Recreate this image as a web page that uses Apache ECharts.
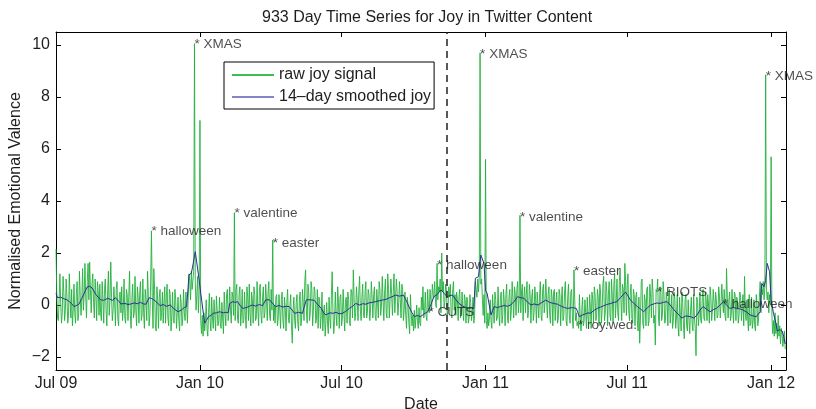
<!DOCTYPE html>
<html>
<head>
<meta charset="utf-8">
<script src="https://cdn.jsdelivr.net/npm/echarts@6/dist/echarts.min.js"></script>
<style>html,body{margin:0;padding:0;background:#fff}#chart{width:816px;height:409px}</style>
</head>
<body>
<div id="chart"></div>
<script>
// x positions are day offsets from 1 July 2009 (933 daily values)
const tickDays = [0, 184, 365, 549, 730, 914];
const tickLabels = ['Jul 09', 'Jan 10', 'Jul 10', 'Jan 11', 'Jul 11', 'Jan 12'];
const yTicks = [-2, 0, 2, 4, 6, 8, 10];
const dividerDay = 499;

const rawJoy = [
2.15,0.4,-0.5,-0.6,0.2,1.2,0.1,
-0.7,-0.3,1.1,0.5,-0.6,-0.2,1.0,
0.3,-0.7,-0.4,1.2,0.2,-0.5,0.6,
-0.8,-0.2,0.8,-0.3,-0.7,0.4,0.9,
-0.6,-0.3,1.3,0.3,-0.4,0.2,1.4,
-0.2,0.4,1.6,0.3,-0.5,0.9,1.6,
0.2,1.65,0.6,-0.3,0.8,1.2,0.1,
-0.5,1.0,0.4,-0.6,0.9,0.5,-0.4,
0.8,-0.3,-0.6,0.9,0.2,-0.7,0.6,
1.0,-0.2,-0.8,0.5,1.3,-0.4,0.2,
1.65,0.3,-0.6,-0.2,0.7,0.1,-0.8,
0.6,0.9,-0.5,-0.8,0.4,0.5,-0.3,
0.7,-0.6,-0.2,1.0,-0.5,-0.7,0.6,
0.4,-0.6,0.3,1.3,-0.4,-0.9,0.2,
0.8,-0.5,-0.3,1.1,-0.2,-0.8,0.7,
0.3,-0.7,0.5,0.9,-0.6,-0.4,1.0,
-0.3,-0.9,0.6,0.2,-0.6,1.3,0.4,
-0.8,-0.4,0.9,2.85,0.3,-0.9,1.4,
0.6,-0.8,-1.0,0.7,0.2,-0.9,0.3,
0.6,-0.6,-0.3,0.5,-0.7,0.1,0.7,
-0.7,0.3,0.8,-0.5,-0.8,0.6,0.4,
-1.0,-0.4,0.5,-0.6,-0.7,0.6,0.2,
-0.9,-0.3,0.3,-0.6,-1.0,0.4,0.1,
-0.8,-0.5,0.6,-0.3,-0.6,0.5,0.0,
-0.7,0.3,1.2,0.9,0.2,1.3,0.6,
0.6,1.3,10.05,0.9,-0.2,0.4,1.1,
-0.3,0.5,7.1,-0.6,-1.1,-0.4,-1.2,
-0.3,-1.0,-0.6,0.2,-0.9,-1.2,-0.3,
0.45,-0.6,-1.0,0.3,-0.5,-0.9,0.2,
-0.4,-1.0,0.35,-0.2,-0.8,-0.6,0.3,
-0.7,-0.9,0.1,-0.5,-1.1,0.5,-0.3,
-0.8,0.4,0.6,-0.6,-0.3,0.7,-0.2,
-0.7,0.5,0.3,-0.4,3.55,-0.6,0.6,
0.8,-0.5,-0.7,0.4,0.7,-0.8,-0.3,
0.6,-0.7,-0.6,0.5,-0.4,-0.9,0.7,
0.3,-0.6,0.8,-0.3,-0.8,0.5,0.2,
-0.7,0.7,0.4,-0.6,-0.5,0.9,-0.2,
-0.8,0.6,0.8,-0.4,-0.7,0.3,0.7,
-0.5,-0.3,0.8,0.2,-0.6,0.5,0.9,
-0.4,-0.6,0.6,-0.2,2.5,-0.6,0.0,
-0.7,0.3,0.4,-0.8,-0.5,0.4,-0.2,
-0.9,0.2,0.5,-0.6,-0.9,0.3,-0.1,
-1.0,0.1,0.6,-0.5,-0.7,0.0,0.4,
-0.8,-1.47,-0.2,0.3,-0.6,-0.9,0.1,
0.4,-0.7,-1.0,0.2,0.5,-0.8,-0.5,
0.6,0.1,-0.6,0.9,1.35,-0.2,-0.7,
0.8,0.5,-0.6,-0.3,0.9,0.6,-0.8,
-0.2,0.7,0.5,-0.7,-0.5,0.6,-0.9,
0.3,0.2,-0.9,-0.4,0.5,-1.0,-0.3,
0.0,-1.2,-0.6,0.1,-0.7,-1.1,0.3,
-0.5,-0.9,0.4,1.28,-0.3,-1.1,-0.6,
0.5,-0.4,-0.8,0.7,0.1,-0.9,0.3,
0.4,-0.8,-0.5,0.6,-0.3,-1.0,0.2,
0.3,-0.7,0.5,0.2,-0.6,-0.8,0.6,
0.5,-0.5,1.35,0.3,-0.6,-0.3,0.7,
0.2,-0.6,0.5,1.1,-0.2,-0.6,0.3,
0.8,-0.4,-0.5,0.5,0.9,-0.5,-0.3,
0.6,0.4,-0.6,-0.2,0.9,0.3,-0.5,
0.4,0.7,-0.4,-0.6,0.6,0.1,-0.5,
0.9,0.6,-0.4,0.0,1.1,0.2,-0.6,
0.5,1.0,-0.3,-0.5,1.2,0.6,-0.5,
0.2,1.0,0.4,-0.4,0.5,1.2,-0.3,
0.3,1.0,0.5,-0.4,0.1,0.9,0.2,
-0.5,0.8,0.6,-0.6,-0.2,0.5,-0.4,
-0.9,0.3,0.0,-0.7,-1.1,0.4,-0.3,
-0.8,-0.4,-1.0,-0.2,-0.9,-0.5,0.0,
-0.6,-0.9,-0.1,-0.7,-0.8,0.3,-0.2,
0.7,-0.5,-0.3,0.5,-0.4,-0.6,0.6,
-0.1,-0.3,0.6,0.2,-0.2,0.8,0.4,
0.3,0.9,0.1,-0.1,1.6,0.2,0.7,
0.5,1.0,-0.3,2.0,0.5,0.9,-0.1,
0.1,0.8,0.6,-0.4,-0.2,0.7,0.3,
0.8,-0.3,-0.5,0.6,0.9,-0.2,0.4,
-0.4,0.5,0.2,-0.6,0.3,0.6,-0.5,
-0.3,0.5,-0.2,-0.6,0.4,0.2,-0.7,
0.3,0.2,-0.7,-0.5,0.4,0.1,-0.6,
-0.3,0.3,-0.7,-0.4,0.9,0.6,0.3,
1.0,0.5,1.1,9.7,0.8,1.0,0.2,
-0.4,0.4,-0.7,5.6,-0.6,-0.9,-0.3,
-0.8,-0.5,0.2,-0.6,-0.9,0.4,-0.2,
-0.7,0.5,0.2,-0.6,-0.5,0.7,-0.3,
-0.8,0.3,0.5,-0.7,-0.4,0.6,0.1,
-0.8,0.4,0.8,-0.5,-0.7,0.3,0.6,
-0.6,-0.2,0.9,0.2,-0.5,0.7,0.4,
-0.4,0.6,0.9,-0.3,0.2,3.45,-0.3,
0.5,0.8,-0.6,0.3,0.7,-0.3,0.4,
0.9,-0.5,-0.2,0.8,0.4,-0.7,0.3,
0.6,-0.6,-0.3,0.7,0.2,-0.7,0.5,
0.5,-0.5,0.3,0.9,-0.4,-0.6,0.6,
0.8,-0.3,0.1,1.0,0.2,-0.5,0.4,
0.7,-0.4,-0.7,0.6,0.3,-0.8,0.5,
0.6,-0.6,0.1,0.5,-0.7,-0.5,0.6,
0.4,-0.8,0.2,0.7,-0.6,-0.4,0.5,
0.9,-0.6,-0.8,0.3,0.8,-0.4,-0.7,
0.5,0.6,-0.5,-0.9,1.35,0.2,-0.6,
-0.3,-0.8,-0.65,-0.9,0.4,-0.5,-1.0,
-0.2,0.3,-0.8,-0.6,0.2,-0.3,-0.9,
0.3,-0.5,-0.7,0.4,-0.1,-0.9,0.5,
0.2,-0.7,0.7,0.4,-0.6,-0.4,0.6,
0.3,-0.8,0.8,0.5,-0.7,-0.2,0.8,
1.1,-0.6,-0.3,0.9,0.5,-0.8,0.4,
0.9,-0.4,-0.6,1.0,0.3,-0.7,0.8,
1.2,-0.5,0.1,1.0,-0.3,-0.6,0.9,
1.4,0.2,-0.6,0.8,0.6,-0.3,1.6,
0.9,-0.4,0.7,1.2,-0.2,-0.6,0.5,
0.8,-0.5,-0.7,0.6,0.4,-0.8,0.3,
0.5,-0.6,-1.0,0.3,-1.47,-0.5,0.9,
1.0,-0.7,-0.9,0.4,0.2,-0.8,0.6,
0.7,-0.8,-0.6,0.8,0.3,-0.5,1.0,
0.5,-0.7,-0.4,-1.54,0.6,0.5,1.0,
-0.5,-0.8,0.6,0.7,-0.6,-0.4,0.9,
0.4,-0.7,-0.6,0.5,0.2,-0.8,0.3,
0.6,-0.7,-0.3,0.4,-0.9,-0.6,0.5,
0.2,-0.9,-0.5,0.4,-0.8,-1.2,0.3,
-0.4,-1.0,0.5,0.1,-0.8,-1.3,0.2,
0.4,-0.8,-1.0,0.2,-0.6,-1.1,-0.2,
0.3,-0.7,-1.0,0.4,-0.5,-0.9,-1.95,
0.3,0.1,-0.8,-0.4,0.5,-0.6,-0.7,
0.3,0.6,-0.5,-0.6,0.5,0.2,-0.6,
0.4,0.0,-0.7,0.7,0.3,-0.6,-0.2,
0.6,0.1,-0.6,0.5,0.2,-0.5,-0.4,
0.7,0.3,-0.5,0.1,0.8,0.1,-0.3,
0.6,-0.4,-0.6,1.4,0.3,-0.5,0.2,
0.5,-0.6,-0.4,0.6,-0.2,-0.7,0.5,
0.4,-0.6,0.3,0.2,-0.7,-0.4,0.5,
0.3,-0.6,-0.2,0.4,-0.8,1.1,-0.3,
-0.6,0.2,-0.5,-1.0,0.4,-0.8,-0.7,
0.3,-0.9,-0.6,0.2,-0.8,-1.0,0.4,
0.0,-0.8,-0.5,0.3,0.9,-0.3,0.6,
0.4,0.9,0.2,0.7,8.85,0.6,0.2,
0.5,-0.3,0.4,0.0,5.7,-0.4,-1.1,
-0.6,-1.2,-0.3,-1.1,-0.7,-1.3,-0.4,
-1.2,-0.8,-1.5,-0.9,-1.1,-1.6,-1.3,
-1.0,-1.7
];

// [day, value]
const smoothJoy = [
[0,0.45],[2,0.28],[6,0.3],[10,0.24],[14,0.2],[17,0.13],[20,0.05],[23,-0.06],[26,-0.02],[29,0.02],
[33,0.25],[36,0.45],[40,0.7],[43,0.72],[46,0.66],[51,0.4],[54,0.3],[57,0.2],[61,0.18],[66,0.26],
[69,0.22],[72,0.18],[76,0.28],[80,0.15],[83,0.04],[88,0.06],[92,0.02],[96,0.04],[100,0.08],[104,0.05],
[108,0.1],[112,0.04],[115,0.03],[119,0.28],[122,0.25],[125,0.2],[129,0.1],[133,-0.03],[137,0.02],[141,-0.05],
[146,0.0],[151,-0.15],[156,-0.26],[160,-0.2],[164,-0.1],[167,-0.06],[169,-0.12],[170,1.16],[173,1.22],[175,1.54],
[178,2.05],[180,2.0],[183,0.96],[185,0.45],[187,0.38],[190,-0.7],[192,-0.6],[195,-0.45],[198,-0.4],[201,-0.32],
[205,-0.3],[209,-0.26],[214,-0.3],[217,-0.28],[220,-0.3],[222,0.06],[226,0.13],[229,0.1],[232,0.13],[236,-0.05],
[239,-0.13],[243,-0.1],[247,-0.05],[251,0.0],[255,-0.04],[260,0.02],[264,-0.03],[268,0.2],[273,0.2],[277,0.05],
[281,-0.06],[285,-0.02],[290,-0.08],[294,-0.05],[298,-0.06],[302,-0.2],[305,-0.32],[310,-0.28],[315,-0.32],[317,-0.1],
[320,0.2],[325,0.2],[330,0.18],[335,0.0],[339,-0.13],[342,-0.3],[345,-0.38],[350,-0.3],[354,-0.32],[358,-0.28],
[362,-0.34],[366,-0.32],[370,-0.25],[375,-0.13],[379,-0.05],[383,0.06],[388,0.0],[392,0.05],[396,0.03],[400,0.08],
[404,0.1],[410,0.14],[417,0.19],[422,0.22],[428,0.3],[434,0.38],[439,0.34],[444,0.38],[448,0.15],[451,-0.06],
[455,-0.3],[458,-0.45],[462,-0.4],[466,-0.45],[470,-0.35],[475,-0.26],[479,0.0],[483,0.32],[487,0.4],[492,0.58],
[496,0.45],[500,0.32],[503,0.36],[507,0.38],[511,0.2],[515,0.06],[520,-0.05],[524,-0.1],[528,-0.13],[531,-0.1],
[534,-0.13],[536,1.03],[540,1.09],[543,1.92],[547,1.6],[549,0.55],[551,0.45],[553,0.38],[556,-0.38],[560,-0.06],
[564,-0.1],[568,-0.06],[573,-0.02],[577,-0.05],[581,0.0],[586,0.15],[590,0.32],[594,0.28],[598,0.26],[603,0.1],
[607,0.0],[611,0.04],[616,0.0],[621,0.1],[626,0.19],[631,0.1],[636,0.06],[641,0.03],[646,-0.05],[650,-0.1],
[654,-0.13],[660,-0.1],[665,-0.13],[667,-0.3],[669,-0.45],[673,-0.38],[676,-0.35],[680,-0.3],[683,-0.32],[688,-0.2],
[692,-0.13],[696,-0.08],[700,-0.03],[704,0.02],[709,0.06],[713,0.1],[717,0.13],[722,0.3],[728,0.5],[731,0.35],
[734,0.19],[738,0.08],[743,-0.06],[747,-0.15],[751,-0.26],[756,-0.1],[760,0.0],[764,0.04],[768,0.08],[772,0.06],
[776,0.1],[781,0.13],[785,0.0],[790,-0.19],[795,-0.35],[800,-0.5],[805,-0.42],[811,-0.45],[815,-0.5],[819,-0.4],
[823,-0.2],[827,-0.06],[831,-0.15],[836,-0.26],[840,-0.18],[844,-0.13],[849,0.0],[853,0.13],[857,0.0],[861,-0.13],
[866,-0.1],[870,-0.13],[874,-0.15],[878,-0.19],[883,-0.28],[887,-0.38],[891,-0.42],[895,-0.45],[900,-0.26],[901,0.4],
[902,0.83],[905,0.7],[907,0.95],[909,1.6],[912,1.28],[914,0.2],[917,-0.32],[920,-0.7],[922,-1.0],[925,-0.95],
[928,-1.0],[930,-1.2],[932,-1.5]
];

const annDays = [122, 177, 228, 277, 476, 487, 542, 593, 662, 667, 768, 852, 907];
const annValues = [2.85, 10.03, 3.53, 2.37, -0.28, 1.54, 9.64, 3.36, 1.28, -0.77, 0.47, 0.03, 8.78];
const annTexts = ['* halloween', '* XMAS', '* valentine', '* easter', '* CUTS', '* halloween', '* XMAS',
                  '* valentine', '* easter', '* roy.wed.', '* RIOTS', '* halloween', '* XMAS'];

const FONT = 'Liberation Sans, Arial, Helvetica, sans-serif';
const TXT = '#1e1e1e';
const GREEN = '#22b03c';
const NAVY = '#2e2e94';
const chart = echarts.init(document.getElementById('chart'), null, {renderer: 'canvas'});

const xCommon = {
  type: 'value', min: 0, max: 933,
  splitLine: {show: false},
  axisLine: {show: true, onZero: false, lineStyle: {color: '#000', width: 1}},
  axisTick: {show: true, inside: true, length: 5, customValues: tickDays, lineStyle: {color: '#000'}}
};
const yCommon = {
  type: 'value', min: -2.5, max: 10.5,
  splitLine: {show: false},
  axisLine: {show: true, onZero: false, lineStyle: {color: '#000', width: 1}},
  axisTick: {show: true, inside: true, length: 5, customValues: yTicks, lineStyle: {color: '#000'}}
};

chart.setOption({
  animation: false,
  backgroundColor: '#fff',
  title: {
    text: '933 Day Time Series for Joy in Twitter Content',
    left: 257, top: 5,
    textStyle: {fontFamily: FONT, fontSize: 16, fontWeight: 'normal', color: TXT}
  },
  grid: {left: 56, top: 32, width: 730, height: 338, containLabel: false, outerBoundsMode: 'none'},
  legend: {
    left: 224, top: 62, orient: 'vertical',
    itemWidth: 42, itemHeight: 2, itemGap: 6,
    icon: 'rect',
    padding: [5, 3, 4, 8],
    borderColor: '#000', borderWidth: 1, backgroundColor: '#fff',
    textStyle: {fontFamily: FONT, fontSize: 16, color: TXT},
    data: [
      {name: 'raw joy signal', itemStyle: {color: '#3cbf52'}},
      {name: '14\u2013day smoothed joy', itemStyle: {color: '#8484c6'}}
    ]
  },
  xAxis: [
    Object.assign({}, xCommon, {
      position: 'bottom',
      axisLabel: {
        customValues: tickDays, margin: 6,
        formatter: v => tickLabels[tickDays.indexOf(v)],
        fontFamily: FONT, fontSize: 16, color: TXT
      },
      name: 'Date', nameLocation: 'middle', nameGap: 25,
      nameTextStyle: {fontFamily: FONT, fontSize: 16, color: TXT}
    }),
    Object.assign({}, xCommon, {position: 'top', axisLabel: {show: false}})
  ],
  yAxis: [
    Object.assign({}, yCommon, {
      position: 'left',
      axisLabel: {
        customValues: yTicks, margin: 6,
        formatter: v => String(v).replace('-', '\u2212'),
        fontFamily: FONT, fontSize: 16, color: TXT
      },
      name: 'Normalised Emotional Valence', nameLocation: 'middle', nameGap: 32,
      nameMoveOverlap: false,
      nameTextStyle: {fontFamily: FONT, fontSize: 16, color: TXT}
    }),
    Object.assign({}, yCommon, {position: 'right', axisLabel: {show: false}})
  ],
  series: [
    {
      name: 'raw joy signal', type: 'line', symbol: 'none',
      data: rawJoy.map((v, i) => [i, v]),
      lineStyle: {color: GREEN, width: 0.9},
      itemStyle: {color: GREEN},
      z: 2,
      markLine: {
        silent: true, symbol: 'none', label: {show: false},
        lineStyle: {color: '#222', type: [7, 5], width: 1.5},
        data: [{xAxis: dividerDay}]
      }
    },
    {
      name: '14\u2013day smoothed joy', type: 'line', symbol: 'none',
      data: smoothJoy,
      lineStyle: {color: NAVY, width: 1},
      itemStyle: {color: NAVY},
      z: 3
    },
    {
      name: 'annotations', type: 'scatter', silent: true,
      symbol: 'circle', symbolSize: 0.1,
      itemStyle: {color: 'rgba(0,0,0,0)'},
      data: annDays.map((d, i) => ({value: [d, annValues[i]], name: annTexts[i]})),
      label: {
        show: true, position: 'right', distance: 0,
        formatter: p => p.name,
        fontFamily: FONT, fontSize: 13.5, color: TXT
      },
      z: 5
    }
  ]
});
</script>
</body>
</html>
